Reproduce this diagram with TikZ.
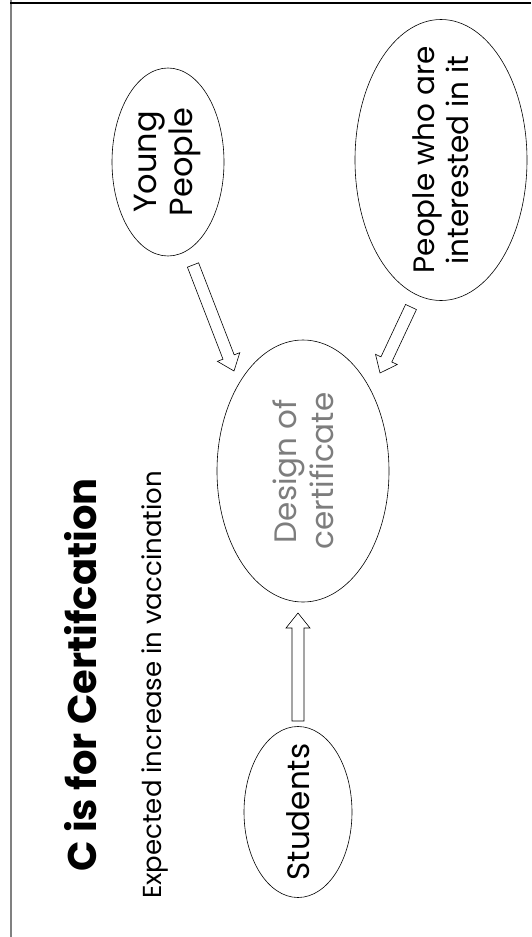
\documentclass[tikz,border=0pt]{standalone}
\usepackage{fontspec}
\setmainfont{Poppins}
\usetikzlibrary{shapes,calc}

\definecolor{framegray}{RGB}{128,128,128}
\definecolor{textgray}{RGB}{125,125,125}

% outlined block arrow from #1 (tail) to #2 (tip)
\newcommand{\blockarrow}[2]{%
  \draw[hollow] ($(#1)!6pt!90:(#2)$)
    -- ($(#2)!15pt!(#1)!6pt!90:(#2)$)
    -- ($(#2)!15pt!(#1)!12pt!90:(#2)$)
    -- (#2)
    -- ($(#2)!15pt!(#1)!12pt!-90:(#2)$)
    -- ($(#2)!15pt!(#1)!6pt!-90:(#2)$)
    -- ($(#1)!6pt!-90:(#2)$) -- cycle;}

\begin{document}
\begin{tikzpicture}[x=1pt,y=-1pt,
    bubble/.style={draw,ellipse,inner sep=0pt,line width=0.6pt},
    bubbletext/.style={rotate=90,align=center,inner sep=0pt,
      font=\fontsize{32}{36}\selectfont},
    hollow/.style={draw,fill=white,line width=0.6pt,line join=miter}]
    \useasboundingbox (0,0) rectangle (531,937);
    % frame
    \draw[framegray,line width=2pt] (11,-3) -- (11,937);
    \draw[line width=1.3pt] (10,3) -- (531,3);
    % headings
    \node[rotate=90,inner sep=0pt,font=\fontsize{40}{44}\selectfont\bfseries] (title) at (81,675) {C is for Certifcation};
    \node[rotate=90,inner sep=0pt,font=\fontsize{26}{30}\selectfont] (subtitle) at (155,685) {Expected increase in vaccination};
    % bubbles
    \node[bubble,minimum width=112pt,minimum height=188pt] (young) at (168,162) {};
    \node[bubble,minimum width=172pt,minimum height=281pt] (interest) at (441,160) {};
    \node[bubble,minimum width=172pt,minimum height=262pt] (design) at (303,471) {};
    \node[bubble,minimum width=108pt,minimum height=171pt] (students) at (298,812) {};
    \node[bubbletext] (young-t) at (young) {Young\\People};
    \node[bubbletext,font=\fontsize{29.5}{34}\selectfont] (interest-t) at (interest) {People who are\\interested in it};
    \node[bubbletext,textgray,font=\fontsize{31}{37}\selectfont] (design-t) at (design) {Design of\\certificate};
    \node[bubbletext,font=\fontsize{31}{36}\selectfont] (students-t) at (students) {Students};
    % arrows
    \coordinate (young-tail) at (193,265);
    \coordinate (young-tip) at (234,371);
    \coordinate (interest-tail) at (411,307);
    \coordinate (interest-tip) at (380,373);
    \coordinate (students-tail) at (298,721);
    \coordinate (students-tip) at (298,613);
    \blockarrow{young-tail}{young-tip}
    \blockarrow{interest-tail}{interest-tip}
    \blockarrow{students-tail}{students-tip}
\end{tikzpicture}
\end{document}
